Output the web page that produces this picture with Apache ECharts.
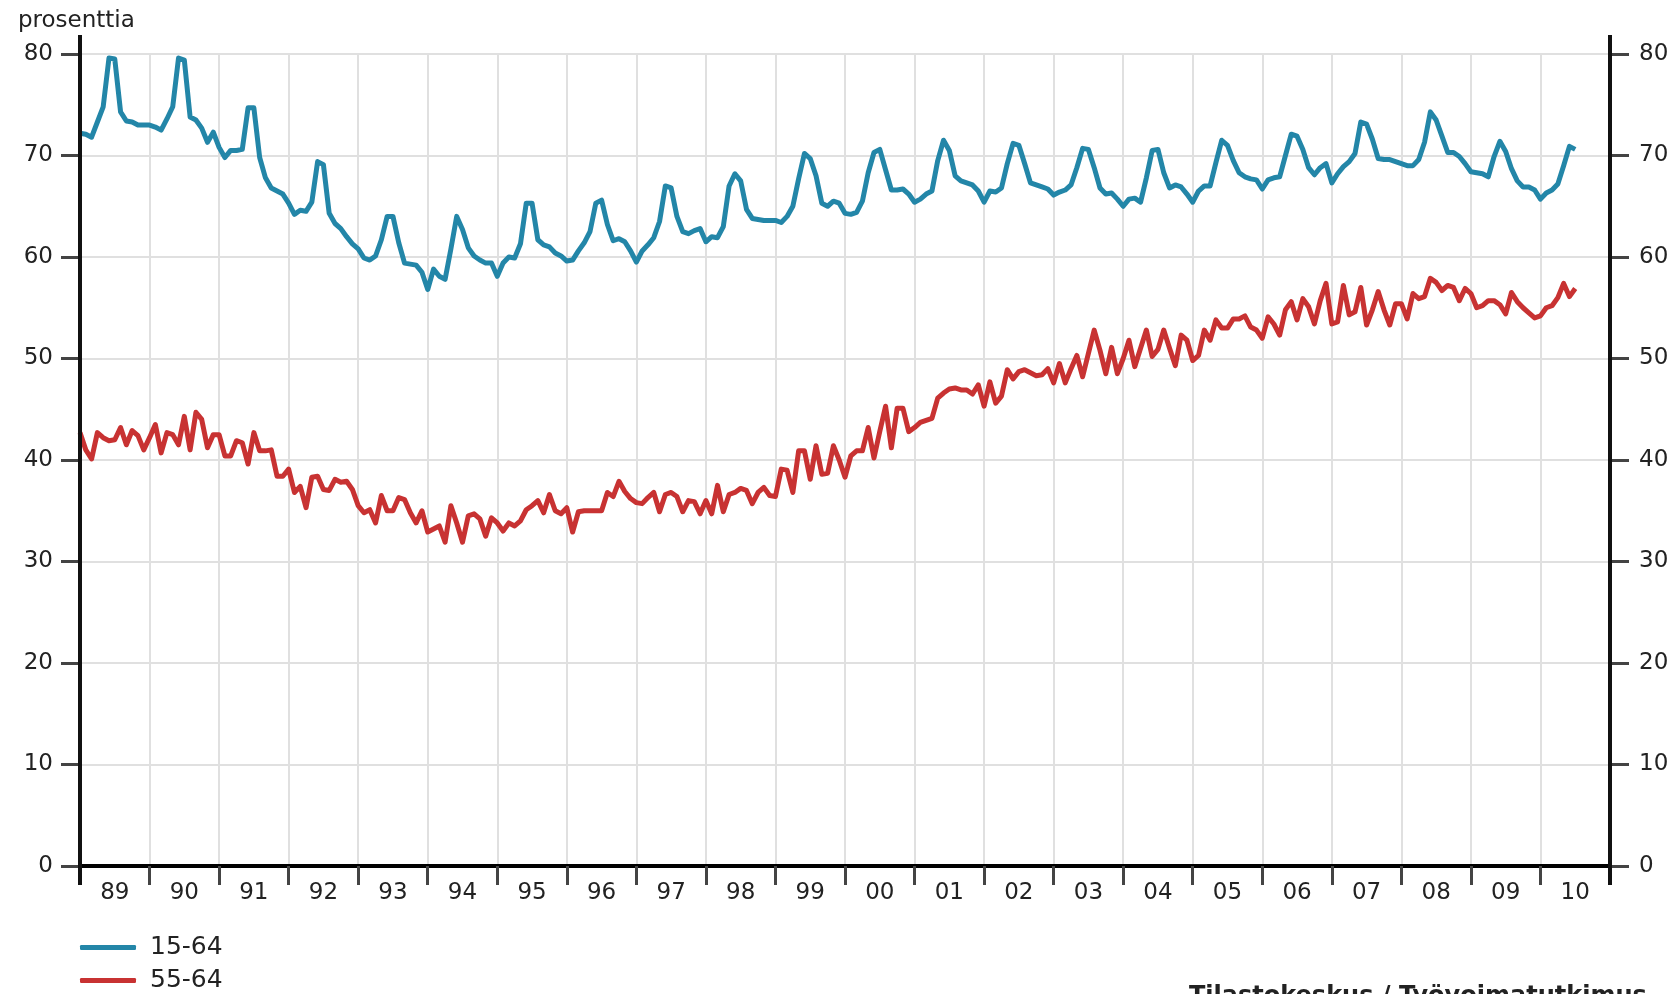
<!DOCTYPE html>
<html>
<head>
<meta charset="utf-8">
<script src="https://cdn.jsdelivr.net/npm/echarts@6/dist/echarts.min.js"></script>
<style>
html,body{margin:0;padding:0;background:#fff;}
#chart{width:1679px;height:994px;}
</style>
</head>
<body>
<div id="chart"></div>
<script>
// Year labels on the x axis (1989 - 2010)
var yearLabels = ['89','90','91','92','93','94','95','96','97','98','99','00','01','02','03','04','05','06','07','08','09','10'];
var yTicks = [0,10,20,30,40,50,60,70,80];
var seriesNames = ['15-64','55-64'];

// Monthly values, Jan 1989 - Jul 2010 (percent)
var rate15_64 = [
  72.2,72.1,71.8,73.3,74.8,79.6,79.5,74.3,73.4,73.3,73.0,73.0, // 1989
  73.0,72.8,72.5,73.6,74.8,79.6,79.4,73.8,73.5,72.7,71.3,72.3, // 1990
  70.8,69.8,70.5,70.5,70.6,74.7,74.7,69.8,67.8,66.8,66.5,66.2, // 1991
  65.3,64.2,64.6,64.5,65.4,69.4,69.1,64.3,63.3,62.8,62.0,61.3, // 1992
  60.8,59.9,59.7,60.1,61.7,64.0,64.0,61.4,59.4,59.3,59.2,58.5, // 1993
  56.8,58.8,58.1,57.8,60.8,64.0,62.7,60.9,60.1,59.7,59.4,59.4, // 1994
  58.1,59.4,60.0,59.9,61.3,65.3,65.3,61.7,61.2,61.0,60.4,60.1, // 1995
  59.6,59.7,60.6,61.4,62.5,65.3,65.6,63.2,61.6,61.8,61.5,60.6, // 1996
  59.5,60.6,61.2,61.9,63.5,67.0,66.8,64.0,62.5,62.3,62.6,62.8, // 1997
  61.5,62.0,61.9,63.0,67.0,68.2,67.5,64.7,63.8,63.7,63.6,63.6, // 1998
  63.6,63.4,64.0,65.0,67.7,70.2,69.7,68.0,65.3,65.0,65.5,65.3, // 1999
  64.3,64.2,64.4,65.5,68.3,70.3,70.6,68.6,66.6,66.6,66.7,66.2, // 2000
  65.4,65.7,66.2,66.5,69.5,71.5,70.5,68.0,67.5,67.3,67.1,66.5, // 2001
  65.4,66.5,66.4,66.8,69.2,71.2,71.0,69.2,67.3,67.1,66.9,66.7, // 2002
  66.1,66.4,66.6,67.1,68.8,70.7,70.6,68.8,66.8,66.2,66.3,65.7, // 2003
  65.0,65.7,65.8,65.4,67.8,70.5,70.6,68.3,66.8,67.1,66.9,66.2, // 2004
  65.4,66.5,67.0,67.0,69.3,71.5,71.0,69.5,68.3,67.9,67.7,67.6, // 2005
  66.7,67.6,67.8,67.9,70.0,72.1,71.9,70.6,68.8,68.1,68.8,69.2, // 2006
  67.3,68.2,68.9,69.4,70.2,73.3,73.1,71.6,69.7,69.6,69.6,69.4, // 2007
  69.2,69.0,69.0,69.6,71.3,74.3,73.5,71.9,70.3,70.3,69.9,69.2, // 2008
  68.4,68.3,68.2,67.9,69.9,71.4,70.4,68.7,67.5,66.9,66.9,66.6, // 2009
  65.7,66.3,66.6,67.2,69.0,70.9,70.6                           // 2010
];
var rate55_64 = [
  42.7,41.0,40.1,42.7,42.2,41.9,42.0,43.2,41.5,42.9,42.4,41.0, // 1989
  42.2,43.5,40.7,42.7,42.5,41.5,44.3,41.0,44.7,44.0,41.2,42.5, // 1990
  42.5,40.4,40.4,41.9,41.7,39.6,42.7,40.9,40.9,41.0,38.4,38.4, // 1991
  39.1,36.8,37.4,35.3,38.3,38.4,37.1,37.0,38.1,37.8,37.9,37.1, // 1992
  35.5,34.8,35.1,33.8,36.5,35.0,35.0,36.3,36.1,34.8,33.8,35.0, // 1993
  32.9,33.2,33.5,31.9,35.5,33.8,31.9,34.5,34.7,34.2,32.5,34.3, // 1994
  33.8,33.0,33.8,33.5,34.0,35.1,35.5,36.0,34.8,36.6,35.0,34.7, // 1995
  35.3,32.9,34.9,35.0,35.0,35.0,35.0,36.8,36.4,37.9,36.9,36.2, // 1996
  35.8,35.7,36.3,36.8,34.9,36.6,36.8,36.4,34.9,36.0,35.9,34.7, // 1997
  36.0,34.7,37.5,34.9,36.6,36.8,37.2,37.0,35.7,36.8,37.3,36.5, // 1998
  36.4,39.1,39.0,36.8,40.9,40.9,38.1,41.4,38.6,38.7,41.4,40.0, // 1999
  38.3,40.4,40.9,40.9,43.2,40.2,42.8,45.3,41.2,45.1,45.1,42.8, // 2000
  43.2,43.7,43.9,44.1,46.1,46.6,47.0,47.1,46.9,46.9,46.5,47.4, // 2001
  45.3,47.7,45.6,46.3,48.9,48.0,48.7,48.9,48.6,48.3,48.4,49.0, // 2002
  47.6,49.5,47.6,49.0,50.3,48.2,50.5,52.8,50.8,48.5,51.1,48.5, // 2003
  50.0,51.8,49.2,51.0,52.8,50.2,50.9,52.8,51.0,49.3,52.3,51.8, // 2004
  49.8,50.3,52.8,51.8,53.8,53.0,53.0,53.9,53.9,54.2,53.1,52.8, // 2005
  52.0,54.1,53.4,52.3,54.8,55.6,53.8,55.9,55.1,53.4,55.7,57.4, // 2006
  53.4,53.6,57.2,54.3,54.6,57.0,53.3,54.8,56.6,54.8,53.3,55.4, // 2007
  55.4,53.9,56.4,55.9,56.1,57.9,57.5,56.7,57.2,57.0,55.7,56.9, // 2008
  56.4,55.0,55.2,55.7,55.7,55.3,54.4,56.5,55.6,55.0,54.5,54.0, // 2009
  54.2,55.0,55.2,56.0,57.4,56.1,56.9                           // 2010
];

var monthsOnAxis = yearLabels.length * 12;
function toPoints(arr){ return arr.map(function(v,i){ return [i, v]; }); }

var FONT = 'DejaVu Sans';
var gridColor = '#e0e0e0';
var chart = echarts.init(document.getElementById('chart'), null, {renderer:'canvas'});

var yAxisCommon = function(pos){
  return {
    type:'value', min:yTicks[0], max:yTicks[yTicks.length-1], interval:10, position:pos,
    axisLine:{show:true, lineStyle:{color:'#111', width:4}},
    axisTick:{show:true, length:19, lineStyle:{color:'#444', width:3}},
    axisLabel:{margin:pos==='left'?27:29, fontSize:23, color:'#222', fontFamily:FONT},
    splitLine:{show:pos==='left', lineStyle:{color:gridColor, width:2}}
  };
};

chart.setOption({
  animation:false,
  backgroundColor:'#fff',
  title:{text:'prosenttia', left:18, top:10, padding:0,
    textStyle:{fontSize:23, fontWeight:'normal', color:'#222', fontFamily:FONT}},
  grid:{left:80, right:69, top:54, bottom:128, containLabel:false},
  legend:{orient:'vertical', left:80, top:935, padding:0, itemGap:8,
    itemWidth:56, itemHeight:5, icon:'roundRect',
    textStyle:{fontSize:25, color:'#222', fontFamily:FONT, padding:[0,0,0,9]},
    data:seriesNames},
  xAxis:[
    {type:'category', data:yearLabels, boundaryGap:true, position:'bottom',
     axisLine:{show:true, lineStyle:{color:'#000', width:4}},
     axisTick:{show:true, interval:0, length:19, lineStyle:{color:'#444', width:3}},
     axisLabel:{interval:0, margin:16, fontSize:23, color:'#222', fontFamily:FONT},
     splitLine:{show:true, interval:0, lineStyle:{color:gridColor, width:2}}},
    {type:'value', min:0, max:monthsOnAxis, show:false}
  ],
  yAxis:[yAxisCommon('left'), yAxisCommon('right')],
  series:[
    {name:seriesNames[0], type:'line', xAxisIndex:1, yAxisIndex:0, data:toPoints(rate15_64),
     showSymbol:false, symbol:'none', color:'#2386a8', lineStyle:{width:5, color:'#2386a8', join:'round'}, z:3},
    {name:seriesNames[1], type:'line', xAxisIndex:1, yAxisIndex:0, data:toPoints(rate55_64),
     showSymbol:false, symbol:'none', color:'#c83232', lineStyle:{width:5, color:'#c83232', join:'round'}, z:3}
  ]
});

// Extend the two vertical axis lines slightly beyond the plot, as in the original
var xl = chart.convertToPixel({xAxisIndex:1}, 0);
var xr = chart.convertToPixel({xAxisIndex:1}, monthsOnAxis);
var yt = chart.convertToPixel({yAxisIndex:0}, yTicks[yTicks.length-1]);
var yb = chart.convertToPixel({yAxisIndex:0}, yTicks[0]);
chart.setOption({
  graphic:[
    {type:'line', shape:{x1:xl, y1:yt-19, x2:xl, y2:yb+19}, style:{stroke:'#111', lineWidth:4}, z:10},
    {type:'line', shape:{x1:xr, y1:yt-19, x2:xr, y2:yb+19}, style:{stroke:'#111', lineWidth:4}, z:10},
    {type:'text', left:1189, top:985, z:10,
     style:{text:'Tilastokeskus / Työvoimatutkimus', font:'bold 24px "DejaVu Sans"', fill:'#222'}}
  ]
});
</script>
</body>
</html>
